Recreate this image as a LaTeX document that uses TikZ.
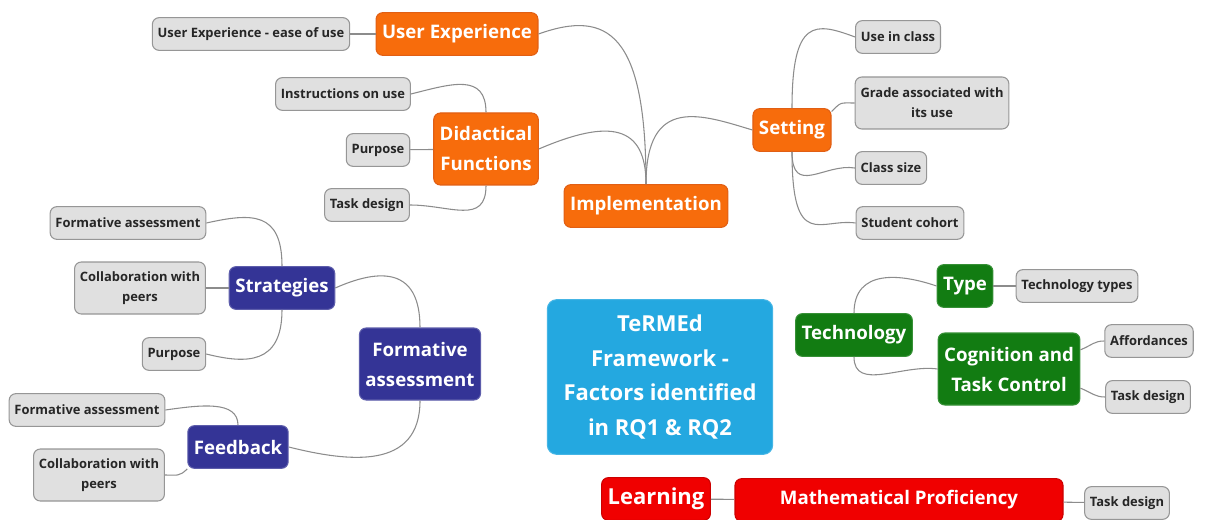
\documentclass[tikz,border=0pt]{standalone}
\usepackage{fontspec}
\setmainfont{Open Sans}
\definecolor{implfill}{RGB}{247,108,12}
\definecolor{implline}{RGB}{225,95,20}
\definecolor{fafill}{RGB}{52,52,150}
\definecolor{techfill}{RGB}{18,124,18}
\definecolor{learnfill}{RGB}{240,0,0}
\definecolor{corefill}{RGB}{36,168,224}
\definecolor{leaffill}{RGB}{224,224,224}
\definecolor{leafline}{RGB}{150,150,150}
\definecolor{linkcol}{RGB}{140,140,140}
\begin{document}
\begin{tikzpicture}[
  x=0.75pt, y=-0.75pt,
  font=\bfseries,
  base/.style={draw, rectangle, rounded corners=5pt, align=center, line width=0.8pt},
  leaf/.style={base, fill=leaffill, draw=leafline, text=black!85, font=\bfseries\fontsize{9.7}{15}\selectfont, minimum height=24.5pt, inner xsep=4pt},
  leaftwo/.style={leaf, minimum height=39pt},
  impl/.style={base, fill=implfill, draw=implline, text=white, font=\bfseries\fontsize{14}{22.5}\selectfont, minimum height=32pt, inner xsep=4.5pt},
  impltwo/.style={impl, minimum height=54pt},
  fa/.style={impl, fill=fafill, draw=fafill!80!white},
  fatwo/.style={fa, minimum height=54pt},
  tech/.style={impl, fill=techfill, draw=techfill!85!white},
  techtwo/.style={tech, minimum height=54pt},
  learn/.style={impl, fill=learnfill, draw=learnfill!85!black},
  core/.style={base, fill=corefill, draw=corefill!85!white, text=white, font=\bfseries\fontsize{16.5}{26}\selectfont, minimum width=169pt, minimum height=116pt, rounded corners=7pt},
  link/.style={draw=linkcol, line width=0.8pt},
]
\useasboundingbox (0,0) rectangle (1205,520);

% implementation branch
\node[impl] (ux)    at (457,34)  {User Experience};
\node[leaf] (uxleaf) at (251,34) {User Experience - ease of use};
\node[impltwo] (did) at (486,149) {Didactical\\Functions};
\node[leaf] (instr) at (343,94)  {Instructions on use};
\node[leaf] (purp1) at (378,150) {Purpose};
\node[leaf] (task1) at (367,205) {Task design};
\node[impl] (impl)  at (646,206) {Implementation};
\node[impl] (set)   at (792,130) {Setting};
\node[leaf] (use)   at (898,37)  {Use in class};
\node[leaftwo] (grade) at (932,103) {Grade associated with\\its use};
\node[leaf] (csize) at (891,168) {Class size};
\node[leaf] (coh)   at (910,223) {Student cohort};

% formative assessment branch
\node[fatwo] (fam)  at (420,364) {Formative\\assessment};
\node[fa] (strat)   at (282,288) {Strategies};
\node[leaf] (form1) at (128,223) {Formative assessment};
\node[leaftwo] (coll1) at (140,288) {Collaboration with\\peers};
\node[leaf] (purp2) at (174,354) {Purpose};
\node[fa] (feed)    at (238,447) {Feedback};
\node[leaf] (form2) at (87,410)  {Formative assessment};
\node[leaftwo] (coll2) at (99,475) {Collaboration with\\peers};

% centre
\node[core] (core) at (660,377) {TeRMEd\\Framework -\\Factors identified\\in RQ1 \& RQ2};

% technology branch
\node[tech] (techn) at (854,335)  {Technology};
\node[tech] (type)  at (965,286)  {Type};
\node[leaf] (ttype) at (1077,286) {Technology types};
\node[techtwo] (cog) at (1009,369) {Cognition and\\Task Control};
\node[leaf] (aff)   at (1149,341) {Affordances};
\node[leaf] (task2) at (1148,397) {Task design};

% learning branch
\node[learn, font=\bfseries\fontsize{16.5}{20}\selectfont] (learn) at (656,499) {Learning};
\node[learn, minimum width=246pt] (prof) at (899,500) {Mathematical Proficiency};
\node[leaf] (task3) at (1127,503) {Task design};

% links
\draw[link] (ux.east) .. controls +(70,-25) and +(0,-150) .. (impl.north);
\draw[link] (did.east) .. controls +(70,-30) and +(0,-60) .. (impl.north);
\draw[link] (impl.north) .. controls +(0,-90) and +(-50,-15) .. (set.west);
\draw[link] (uxleaf) -- (ux);
\draw[link] (did.north) .. controls +(0,-40) and +(40,-10) .. (instr.east);
\draw[link] (purp1) -- (did);
\draw[link] (did.south) .. controls +(0,40) and +(40,0) .. (task1.east);
\draw[link] (set.north) .. controls +(0,-90) and +(-40,-15) .. (use.west);
\draw[link] (set.25) .. controls +(10,-10) and +(-15,0) .. (grade.west);
\draw[link] (set.south) .. controls +(0,45) and +(-30,-5) .. (csize.west);
\draw[link] (set.south) .. controls +(0,100) and +(-35,-5) .. (coh.west);

\draw[link] (fam.north) .. controls +(0,-60) and +(45,-20) .. (strat.east);
\draw[link] (fam.south) .. controls +(0,70) and +(60,15) .. (feed.east);
\draw[link] (strat.north) .. controls +(0,-55) and +(45,-10) .. (form1.east);
\draw[link] (coll1) -- (strat);
\draw[link] (strat.south) .. controls +(0,55) and +(40,10) .. (purp2.east);
\draw[link] (feed.north) .. controls +(0,-25) and +(35,-5) .. (form2.east);
\draw[link] (feed.south west) .. controls +(-8,8) and +(12,0) .. (coll2.east);

\draw[link] (techn.north) .. controls +(0,-45) and +(-35,-12) .. (type.west);
\draw[link] (techn.south) .. controls +(0,35) and +(-35,-5) .. (cog.west);
\draw[link] (type) -- (ttype);
\draw[link] (cog.15) .. controls +(12,-5) and +(-10,0) .. (aff.west);
\draw[link] (cog.-15) .. controls +(12,5) and +(-10,0) .. (task2.west);
\draw[link] (learn) -- (prof);
\draw[link] (prof) -- (task3);
\end{tikzpicture}
\end{document}
